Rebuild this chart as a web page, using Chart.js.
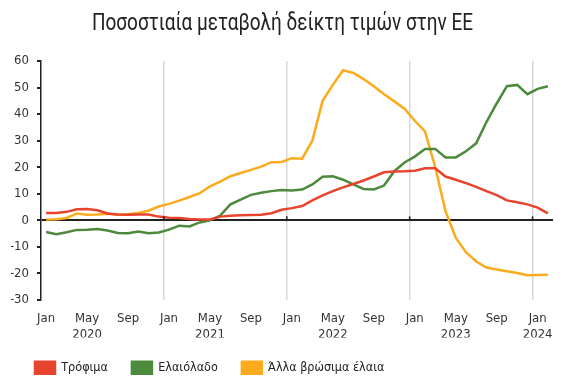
<!DOCTYPE html>
<html>
<head>
<meta charset="utf-8">
<script src="https://cdn.jsdelivr.net/npm/chart.js@4.4.1/dist/chart.umd.min.js"></script>
<style>
  html, body { margin: 0; padding: 0; background: #fff; }
  #wrap { position: relative; width: 582px; height: 381px; }
  #title {
    position: absolute; left: 92px; top: 9px;
    font: 23px Roboto, 'DejaVu Sans Condensed', sans-serif;
    color: #222; white-space: nowrap;
    transform-origin: 0 0;
  }
</style>
</head>
<body>
<div id="wrap">
  <div id="title">Ποσοστιαία μεταβολή δείκτη τιμών στην ΕΕ</div>
  <canvas id="chart" width="582" height="381"></canvas>
</div>
<script>
const FONT = "'DejaVu Sans Condensed', Roboto, sans-serif";

// monthly, Jan 2020 .. Feb 2024
const months = [
  'Jan 2020','Feb 2020','Mar 2020','Apr 2020','May 2020','Jun 2020','Jul 2020','Aug 2020','Sep 2020','Oct 2020','Nov 2020','Dec 2020',
  'Jan 2021','Feb 2021','Mar 2021','Apr 2021','May 2021','Jun 2021','Jul 2021','Aug 2021','Sep 2021','Oct 2021','Nov 2021','Dec 2021',
  'Jan 2022','Feb 2022','Mar 2022','Apr 2022','May 2022','Jun 2022','Jul 2022','Aug 2022','Sep 2022','Oct 2022','Nov 2022','Dec 2022',
  'Jan 2023','Feb 2023','Mar 2023','Apr 2023','May 2023','Jun 2023','Jul 2023','Aug 2023','Sep 2023','Oct 2023','Nov 2023','Dec 2023',
  'Jan 2024','Feb 2024'
];

// one label every 4 months
const xTickLabels = [
  ['Jan'], ['May', '2020'], ['Sep'],
  ['Jan'], ['May', '2021'], ['Sep'],
  ['Jan'], ['May', '2022'], ['Sep'],
  ['Jan'], ['May', '2023'], ['Sep'],
  ['Jan', '2024']
];

const food = [
  2.8, 2.8, 3.2, 4.2, 4.3, 3.8, 2.6, 2.2, 2.1, 2.2, 2.2, 1.4,
  1.0, 0.9, 0.5, 0.3, 0.3, 1.4, 1.7, 1.9, 2.0, 2.1, 2.7, 4.0,
  4.6, 5.4, 7.5, 9.4, 11.0, 12.4, 13.7, 15.0, 16.5, 18.1, 18.4, 18.5,
  18.7, 19.6, 19.6, 16.5, 15.3, 14.0, 12.6, 11.0, 9.5, 7.5, 6.8, 6.0,
  4.8, 2.6
];

const oliveOil = [
  -4.4, -5.2, -4.5, -3.6, -3.5, -3.3, -3.8, -4.8, -4.9, -4.2, -4.9, -4.6,
  -3.5, -2.0, -2.3, -0.8, 0.0, 1.8, 6.0, 7.8, 9.6, 10.4, 11.0, 11.4,
  11.2, 11.6, 13.5, 16.4, 16.6, 15.3, 13.5, 11.8, 11.6, 13.1, 18.5, 21.8,
  24.0, 26.9, 26.9, 23.7, 23.7, 26.0, 29.0, 37.0, 44.0, 50.5, 51.0, 47.5,
  49.5, 50.5
];

const otherOils = [
  0.3, 0.4, 0.9, 2.6, 2.1, 2.2, 2.5, 2.1, 2.3, 2.8, 3.6, 5.2,
  6.2, 7.4, 8.8, 10.2, 12.8, 14.6, 16.6, 17.8, 19.0, 20.2, 21.9, 22.0,
  23.4, 23.2, 30.0, 45.0, 51.0, 56.5, 55.5, 53.2, 50.5, 47.5, 44.8, 42.0,
  37.5, 33.5, 20.0, 3.5, -6.5, -12.0, -15.5, -17.8, -18.5, -19.2, -19.8, -20.7,
  -20.6, -20.5
];

const seriesNames = ['Τρόφιμα', 'Ελαιόλαδο', 'Άλλα βρώσιμα έλαια'];
const seriesColors = ['#e8432d', '#4c8a3c', '#fbab1c'];

// squeeze the title to the narrow width of the original heading
const titleEl = document.getElementById('title');
titleEl.style.transform = 'scaleX(' + (381 / titleEl.getBoundingClientRect().width) + ')';

// small black marks on the zero line at each January boundary
const zeroTicks = {
  id: 'zeroTicks',
  afterDatasetsDraw(chart) {
    const x = chart.scales.x, y = chart.scales.y;
    const y0 = y.getPixelForValue(0);
    const ctx = chart.ctx;
    ctx.save();
    ctx.strokeStyle = '#222';
    ctx.lineWidth = 1.5;
    for (let i = 12; i < months.length; i += 12) {
      const px = (x.getPixelForValue(i) + x.getPixelForValue(i - 1)) / 2;
      ctx.beginPath();
      ctx.moveTo(px, y0 - 4);
      ctx.lineTo(px, y0);
      ctx.stroke();
    }
    ctx.restore();
  }
};

const datasets = [food, oliveOil, otherOils].map((data, k) => ({
  label: seriesNames[k],
  data: data,
  borderColor: seriesColors[k],
  backgroundColor: seriesColors[k],
  borderWidth: 2.5,
  pointRadius: 0,
  tension: 0,
  fill: false,
}));

new Chart(document.getElementById('chart'), {
  type: 'line',
  data: { labels: months, datasets: datasets },
  plugins: [zeroTicks],
  options: {
    responsive: false,
    animation: false,
    devicePixelRatio: 1,
    layout: { padding: { top: 61, left: 11, right: 29, bottom: -3 } },
    plugins: {
      title: { display: false },
      tooltip: { enabled: false },
      legend: {
        position: 'bottom',
        align: 'start',
        labels: {
          boxWidth: 20,
          boxHeight: 12,
          padding: 24,
          color: '#222',
          font: { family: FONT, size: 12.5 },
        },
      },
    },
    scales: {
      x: {
        type: 'category',
        offset: true,
        afterFit: (s) => { s.height = 37.5; },
        border: { display: false },
        grid: {
          offset: true,
          drawTicks: false,
          lineWidth: 1.5,
          color: (c) => (c.index > 0 && c.index % 12 === 0) ? '#d8d8d8' : 'rgba(0,0,0,0)',
        },
        ticks: {
          autoSkip: false,
          maxRotation: 0,
          padding: 10,
          color: '#333',
          font: { family: FONT, size: 13, lineHeight: 1.25 },
          callback: (v, i) => (i % 4 === 0 ? xTickLabels[i / 4] : ''),
        },
      },
      y: {
        min: -30,
        max: 60,
        afterFit: (s) => { s.width = 30; },
        border: { display: true, color: '#222', width: 1.5 },
        grid: {
          drawTicks: true,
          tickLength: 4,
          tickColor: '#222',
          lineWidth: 2,
          color: (c) => (c.tick && c.tick.value === 0) ? '#222' : 'rgba(0,0,0,0)',
        },
        ticks: {
          stepSize: 10,
          padding: 8,
          color: '#333',
          font: { family: FONT, size: 13 },
        },
      },
    },
  },
});
</script>
</body>
</html>
